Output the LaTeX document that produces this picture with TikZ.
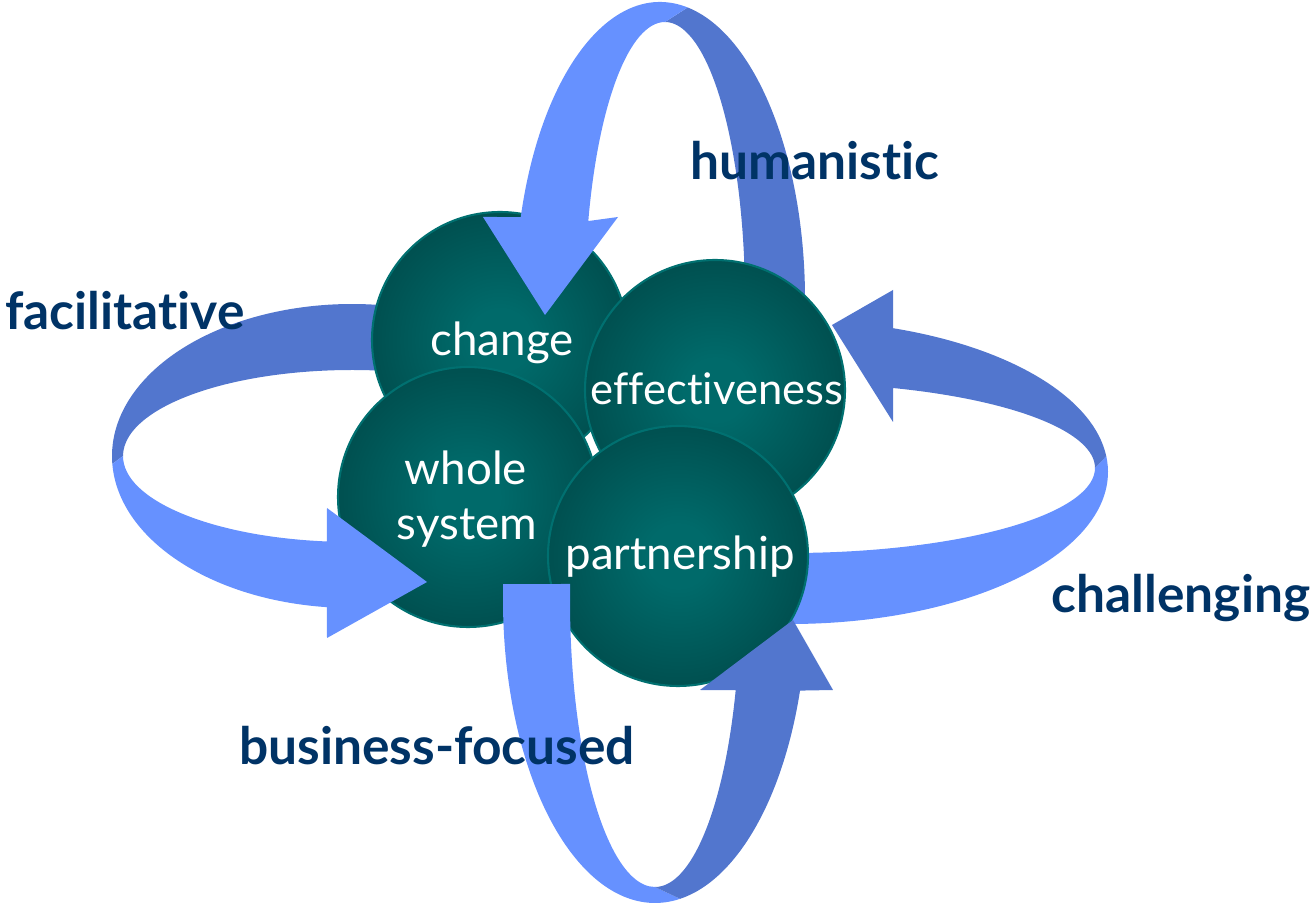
\documentclass[tikz,border=0pt]{standalone}
\usepackage{fontspec}
\setmainfont{Lato}[Ligatures=NoCommon]
\usetikzlibrary{calc}
\definecolor{bandlight}{RGB}{102,145,255}
\definecolor{banddark}{RGB}{82,118,206}
\definecolor{labelblue}{RGB}{0,51,102}
\definecolor{tealin}{RGB}{0,106,106}
\definecolor{tealout}{RGB}{0,50,50}
\definecolor{tealline}{RGB}{0,112,112}
\pgfdeclareradialshading{tealball}{\pgfpoint{0bp}{0bp}}{color(0bp)=(tealin); color(6bp)=(tealin); color(47bp)=(tealout); color(50bp)=(tealout)}
\tikzset{
  ball/.style={circle, draw=tealline, line width=1.2pt, shading=tealball, inner sep=0pt},
  lbl/.style={text=labelblue, font=\fontsize{29.3pt}{35pt}\selectfont\bfseries, anchor=base, inner sep=0pt},
  balltext/.style={text=white, font=\fontsize{26pt}{30pt}\selectfont, anchor=base, inner sep=0pt},
  light/.style={fill=bandlight},
  dark/.style={fill=banddark}
}
\begin{document}
\begin{tikzpicture}[x=0.02cm, y=-0.02cm]
\useasboundingbox (0,0) rectangle (1313,908);
% facilitative: back (dark) band
\fill[dark] ($(352,456)+(177:240 and 152)$) arc[start angle=177, end angle=292, x radius=240, y radius=152]
  -- ($(352,456)+(292:229 and 86)$) arc[start angle=292, end angle=180, x radius=229, y radius=86] -- cycle;
% challenging: lower (light) band
\fill[light] ($(790,472)+(-6:318 and 152)$) arc[start angle=-6, end angle=100, x radius=318, y radius=152]
  -- ($(790,468)+(100:305 and 85)$) arc[start angle=100, end angle=0, x radius=305, y radius=85] -- cycle;
% humanistic: right (dark) band
\fill[dark] ($(660,300)+(281:145 and 298)$) arc[start angle=281, end angle=370, x radius=145, y radius=298]
  -- ($(665,300)+(370:80 and 278)$) arc[start angle=370, end angle=270, x radius=80, y radius=278] -- cycle;
% change
\node[ball, minimum size=5.12cm] (change) at (500,340) {};
% humanistic: left (light) band with head
\fill[light] (483,217) -- ($(660,300)+(196.17:145 and 298)$) arc[start angle=196.17, end angle=281, x radius=145, y radius=298]
  -- ($(665,300)+(270:80 and 278)$) arc[start angle=270, end angle=196.5, x radius=80, y radius=278]
  -- (618,217) -- (545,315) -- cycle;
% effectiveness
\node[ball, minimum size=5.2cm] (effect) at (715,390) {};
% challenging: upper (dark) band with head
\fill[dark] ($(790,472)+(-6:318 and 152)$) arc[start angle=-6, end angle=-71.1, x radius=318, y radius=152]
  -- (893,290) -- (832,325) -- (893,422)
  -- ($(790,468)+(-70.26:305 and 85)$) arc[start angle=-70.26, end angle=0, x radius=305, y radius=85] -- cycle;
% whole system
\node[ball, minimum size=5.2cm] (whole) at (468,497) {};
% facilitative: front (light) band with head
\fill[light] ($(352,456)+(177:240 and 152)$) arc[start angle=177, end angle=96, x radius=240, y radius=152]
  -- (327,638) -- (427,582) -- (327,508)
  -- ($(352,456)+(96.3:229 and 86)$) arc[start angle=96.3, end angle=180, x radius=229, y radius=86] -- cycle;
% partnership
\node[ball, minimum size=5.2cm] (partner) at (678,556) {};
% business-focused: left (light) band
\fill[light] ($(655,600)+(183:152 and 303)$) arc[start angle=183, end angle=80.5, x radius=152, y radius=303]
  -- ($(655,600)+(90:85 and 287)$) arc[start angle=90, end angle=183.2, x radius=85, y radius=287] -- cycle;
% business-focused: right (dark) band with head
\fill[dark] ($(655,600)+(80.5:152 and 303)$) arc[start angle=80.5, end angle=17.4, x radius=152, y radius=303]
  -- (833,690) -- (793,620) -- (700,690)
  -- ($(655,600)+(18.3:85 and 287)$) arc[start angle=18.3, end angle=90, x radius=85, y radius=287] -- cycle;
% ball texts
\node[balltext] (tchange) at (502,356) {change};
\node[balltext, font=\fontsize{24.8pt}{30pt}\selectfont] (teffect) at (717,405) {effectiveness};
\node[balltext] (twhole) at (466,485) {whole};
\node[balltext] (tsystem) at (467,540) {system};
\node[balltext] (tpartner) at (680,570) {partnership};
% labels
\node[lbl] (lhum) at (815,180) {humanistic};
\node[lbl] (lfac) at (125,330) {facilitative};
\node[lbl] (lcha) at (1181,613) {challenging};
\node[lbl] (lbus) at (437,765) {business-focused};
\end{tikzpicture}
\end{document}
